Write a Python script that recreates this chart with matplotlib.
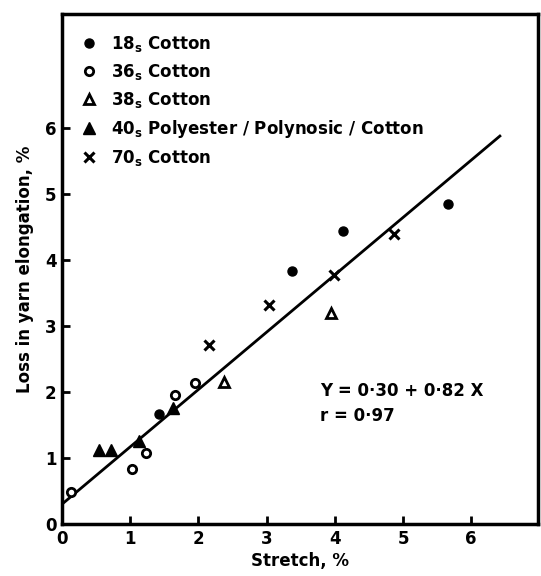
import numpy as np
import matplotlib
matplotlib.use("Agg")
import matplotlib.pyplot as plt

# values (stretch %, loss in yarn elongation %)
cotton18_x = [1.42, 3.37, 4.12, 5.66]
cotton18_y = [1.67, 3.83, 4.44, 4.85]

cotton36_x = [0.13, 1.03, 1.23, 1.66, 1.95]
cotton36_y = [0.48, 0.83, 1.08, 1.95, 2.14]

cotton38_x = [2.38, 3.94]
cotton38_y = [2.15, 3.20]

poly40_x = [0.54, 0.72, 1.13, 1.63]
poly40_y = [1.12, 1.12, 1.26, 1.76]

cotton70_x = [2.16, 3.04, 3.99, 4.87]
cotton70_y = [2.71, 3.32, 3.77, 4.39]

fit_x = [0.0, 6.42]
fit_y = [0.30, 5.88]

legend_labels = [r'18$_\mathbf{s}$ Cotton', r'36$_\mathbf{s}$ Cotton', r'38$_\mathbf{s}$ Cotton',
                 r'40$_\mathbf{s}$ Polyester / Polynosic / Cotton', r'70$_\mathbf{s}$ Cotton']
ticks = [0, 1, 2, 3, 4, 5, 6]

plt.rcParams['font.family'] = ['DejaVu Sans']
plt.rcParams['mathtext.fontset'] = 'dejavusans'

fig = plt.figure(figsize=(5.41, 5.76), dpi=100)
ax = fig.add_axes([0.1146, 0.0903, 0.88, 0.8854])

ax.plot(fit_x, fit_y, color='black', lw=2)

ax.plot(cotton18_x, cotton18_y, 'o', color='black', ms=6.5, label=legend_labels[0])
ax.plot(cotton36_x, cotton36_y, 'o', mfc='white', mec='black', mew=2, ms=6, label=legend_labels[1])
ax.plot(cotton38_x, cotton38_y, '^', mfc='white', mec='black', mew=2, ms=6.5, label=legend_labels[2])
ax.plot(poly40_x, poly40_y, '^', color='black', ms=9, label=legend_labels[3])
ax.plot(cotton70_x, cotton70_y, 'x', color='black', mew=2.2, ms=6.5, label=legend_labels[4])

ax.set_xlim(0, 6.98)
ax.set_ylim(0, 7.73)
ax.set_xticks(ticks)
ax.set_yticks(ticks)
ax.set_xticklabels([str(t) for t in ticks], fontweight='bold', fontsize=12)
ax.set_yticklabels([str(t) for t in ticks], fontweight='bold', fontsize=12)
ax.tick_params(direction='in', length=6, width=2, pad=4)

for s in ax.spines.values():
    s.set_linewidth(2.5)

ax.set_xlabel('Stretch, %', fontweight='bold', fontsize=12, labelpad=3)
ax.set_ylabel('Loss in yarn elongation, %', fontweight='bold', fontsize=12, labelpad=8)

ax.legend(loc='upper left', bbox_to_anchor=(0.005, 0.99), frameon=False,
          prop={'weight': 'bold', 'size': 12}, handletextpad=0.7,
          labelspacing=0.48, handlelength=1.2)

ax.text(3.78, 1.94, 'Y = 0·30 + 0·82 X', fontweight='bold', fontsize=12)
ax.text(3.78, 1.56, 'r = 0·97', fontweight='bold', fontsize=12)

fig.savefig('out.png', dpi=100)
